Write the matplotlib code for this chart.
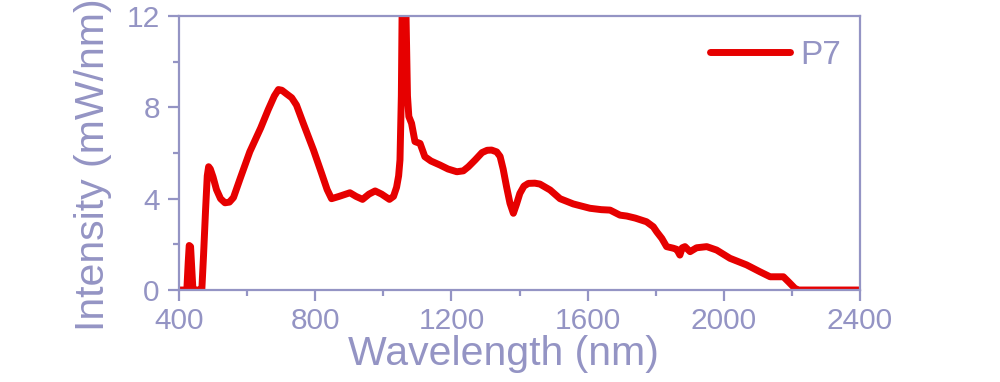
import matplotlib
matplotlib.use("Agg")
import matplotlib.pyplot as plt
from matplotlib.ticker import MultipleLocator

plt.rcParams['font.family'] = ['Liberation Sans', 'DejaVu Sans']

wavelength = [400, 423, 427, 430, 434, 438, 441, 455, 467, 472, 478, 483, 487, 492, 500, 510,
              522, 535, 548, 560, 580, 608, 640, 662, 680, 692, 702, 715, 731, 745, 765, 795,
              819, 835, 848, 870, 902, 920, 939, 958, 976, 995, 1018, 1030, 1039, 1045, 1049,
              1053, 1056, 1059, 1062, 1065, 1068, 1071, 1075, 1083, 1093, 1108, 1122, 1140,
              1167, 1190, 1216, 1235, 1250, 1270, 1290, 1305, 1318, 1333, 1343, 1352, 1362,
              1372, 1382, 1391, 1401, 1413, 1426, 1445, 1460, 1490, 1519, 1558, 1607, 1640,
              1666, 1695, 1715, 1740, 1773, 1793, 1803, 1818, 1832, 1852, 1862, 1871, 1878,
              1886, 1901, 1920, 1950, 1979, 2018, 2067, 2106, 2136, 2175, 2190, 2209, 2220,
              2300, 2400]
intensity = [0.0, 0.0, 1.2, 1.95, 1.9, 0.8, 0.0, 0.0, 0.0, 1.5, 3.5, 5.0, 5.4, 5.3, 4.95, 4.4,
             4.0, 3.82, 3.85, 4.05, 4.9, 6.06, 7.1, 7.9, 8.5, 8.78, 8.75, 8.6, 8.42, 8.1, 7.3, 6.13,
             5.1, 4.4, 4.0, 4.1, 4.26, 4.1, 3.97, 4.2, 4.34, 4.2, 3.97, 4.1, 4.5, 5.0, 5.7,
             8.5, 13.5, 11.5, 10.0, 13.5, 11.0, 8.5, 7.6, 7.3, 6.5, 6.42, 5.84, 5.65,
             5.47, 5.3, 5.18, 5.22, 5.4, 5.7, 6.02, 6.12, 6.13, 6.05, 5.85, 5.3, 4.52,
             3.8, 3.36, 3.75, 4.23, 4.55, 4.67, 4.68, 4.64, 4.38, 4.0, 3.77, 3.58, 3.52,
             3.5, 3.28, 3.24, 3.15, 2.99, 2.77, 2.55, 2.26, 1.9, 1.83, 1.78, 1.53, 1.85,
             1.9, 1.68, 1.85, 1.9, 1.75, 1.39, 1.1, 0.8, 0.58, 0.58, 0.36, 0.07, 0.0,
             0.0, 0.0]

series_name = "P7"
xticks = [400, 800, 1200, 1600, 2000, 2400]
yticks = [0, 4, 8, 12]

axis_color = '#9494C4'
line_color = '#E60000'

fig = plt.figure(figsize=(10, 3.82), dpi=100)
ax = fig.add_axes([0.179, 0.2408, 0.681, 0.7172])

ax.plot(wavelength, intensity, color=line_color, lw=5, label=series_name,
        solid_joinstyle='round', solid_capstyle='round')

ax.set_xlim(400, 2400)
ax.set_ylim(0, 12)
ax.set_xticks(xticks)
ax.set_yticks(yticks)
ax.xaxis.set_minor_locator(MultipleLocator(200))
ax.yaxis.set_minor_locator(MultipleLocator(2))

for s in ax.spines.values():
    s.set_color(axis_color)
    s.set_linewidth(1.6)

ax.tick_params(axis='both', which='major', direction='out', length=7.8, width=1.6,
               color=axis_color, labelcolor=axis_color, labelsize=21.5)
ax.tick_params(axis='x', which='major', pad=4.5)
ax.tick_params(axis='y', which='major', pad=6)
ax.tick_params(axis='both', which='minor', direction='out', length=4.4, width=1.6,
               color=axis_color)
ax.tick_params(top=False, right=False, which='both')

ax.set_xlabel('Wavelength (nm)', fontsize=29.5, color=axis_color)
ax.set_ylabel('Intensity (mW/nm)', fontsize=29.5, color=axis_color)
ax.xaxis.set_label_coords(0.476, -0.165)
ax.yaxis.set_label_coords(-0.098, 0.456)

leg = ax.legend(loc='upper right', frameon=False, fontsize=24, handlelength=2.4,
                handletextpad=0.3, borderaxespad=0.0, bbox_to_anchor=(0.992, 0.963))
for t in leg.get_texts():
    t.set_color(axis_color)

fig.savefig('out.png', dpi=100)
